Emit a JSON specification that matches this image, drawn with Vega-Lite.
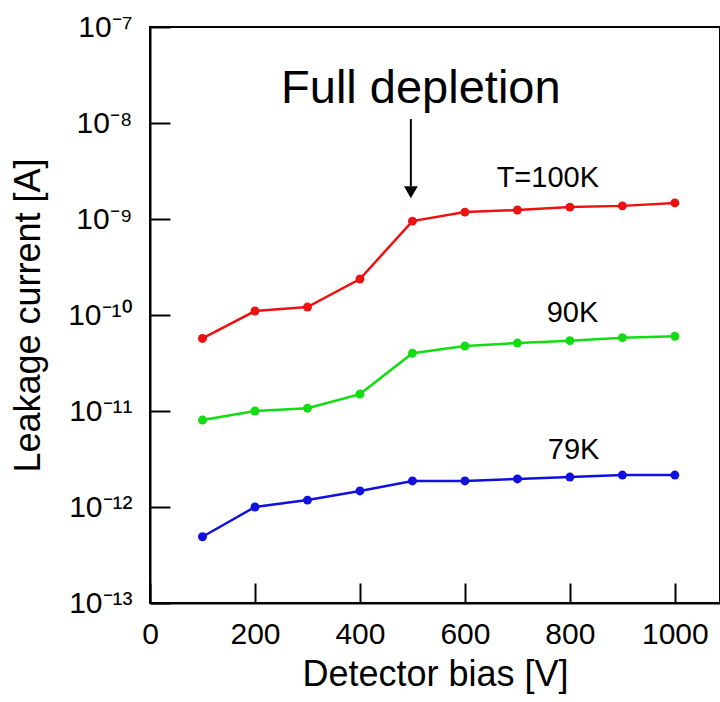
{
  "$schema": "https://vega.github.io/schema/vega-lite/v6.json",
  "autosize": {"type": "none"},
  "padding": {"left": 150, "top": 27, "right": 0, "bottom": 99},
  "width": 570,
  "height": 576,
  "background": "white",
  "config": {
    "font": "Liberation Sans",
    "view": {"stroke": "black", "strokeWidth": 2},
    "axis": {
      "grid": false,
      "domainColor": "black",
      "domainWidth": 2,
      "tickColor": "black",
      "tickWidth": 2,
      "tickSize": -20,
      "labelColor": "black",
      "labelFont": "Liberation Sans",
      "labelFontSize": 30,
      "titleFont": "Liberation Sans",
      "titleFontSize": 36,
      "titleFontWeight": "normal",
      "titleColor": "black"
    }
  },
  "datasets": {
    "series": [
      {"V": 100, "I": 5.7e-11, "T": "100K"},
      {"V": 200, "I": 1.1e-10, "T": "100K"},
      {"V": 300, "I": 1.21e-10, "T": "100K"},
      {"V": 400, "I": 2.37e-10, "T": "100K"},
      {"V": 500, "I": 9.5e-10, "T": "100K"},
      {"V": 600, "I": 1.18e-9, "T": "100K"},
      {"V": 700, "I": 1.24e-9, "T": "100K"},
      {"V": 800, "I": 1.33e-9, "T": "100K"},
      {"V": 900, "I": 1.37e-9, "T": "100K"},
      {"V": 1000, "I": 1.47e-9, "T": "100K"},
      {"V": 100, "I": 8.05e-12, "T": "90K"},
      {"V": 200, "I": 1.0e-11, "T": "90K"},
      {"V": 300, "I": 1.07e-11, "T": "90K"},
      {"V": 400, "I": 1.5e-11, "T": "90K"},
      {"V": 500, "I": 4.0e-11, "T": "90K"},
      {"V": 600, "I": 4.75e-11, "T": "90K"},
      {"V": 700, "I": 5.1e-11, "T": "90K"},
      {"V": 800, "I": 5.4e-11, "T": "90K"},
      {"V": 900, "I": 5.8e-11, "T": "90K"},
      {"V": 1000, "I": 6.0e-11, "T": "90K"},
      {"V": 100, "I": 4.9e-13, "T": "79K"},
      {"V": 200, "I": 1.0e-12, "T": "79K"},
      {"V": 300, "I": 1.18e-12, "T": "79K"},
      {"V": 400, "I": 1.47e-12, "T": "79K"},
      {"V": 500, "I": 1.87e-12, "T": "79K"},
      {"V": 600, "I": 1.87e-12, "T": "79K"},
      {"V": 700, "I": 1.96e-12, "T": "79K"},
      {"V": 800, "I": 2.05e-12, "T": "79K"},
      {"V": 900, "I": 2.15e-12, "T": "79K"},
      {"V": 1000, "I": 2.15e-12, "T": "79K"}
    ],
    "labels": [
      {"V": 758, "I": 2.15e-9, "label": "T=100K"},
      {"V": 805, "I": 8.45e-11, "label": "90K"},
      {"V": 807, "I": 3.16e-12, "label": "79K"}
    ],
    "note": [
      {"V": 516, "I": 1.6e-8, "label": "Full depletion", "V0": 497, "Itop": 1.1e-8, "Ibase": 2.2e-9, "Ihead": 1.9e-9}
    ]
  },
  "layer": [
    {
      "data": {"name": "series"},
      "mark": {"type": "line", "strokeWidth": 2.5},
      "encoding": {
        "x": {
          "field": "V",
          "type": "quantitative",
          "scale": {"domain": [0, 1086], "nice": false, "zero": false},
          "axis": {"title": "Detector bias [V]", "values": [0, 200, 400, 600, 800, 1000], "format": "d", "labelPadding": 36, "titlePadding": 8, "labelFlush": false}
        },
        "y": {
          "field": "I",
          "type": "quantitative",
          "scale": {"type": "log", "domain": [1e-13, 1e-7], "nice": false},
          "axis": {
            "title": "Leakage current [A]",
            "values": [1e-13, 1e-12, 1e-11, 1e-10, 1e-9, 1e-8, 1e-7],
            "labelExpr": "['10⁻¹³','10⁻¹²','10⁻¹¹','10⁻¹⁰','10⁻⁹','10⁻⁸','10⁻⁷'][round(log(datum.value)/LN10)+13]",
            "labelPadding": 38,
            "titlePadding": 20,
            "labelFlush": false
          }
        },
        "color": {"field": "T", "type": "nominal", "scale": {"domain": ["100K", "90K", "79K"], "range": ["#ee1111", "#11dd11", "#1111dd"]}, "legend": null}
      }
    },
    {
      "data": {"name": "series"},
      "mark": {"type": "point", "filled": true, "opacity": 1, "size": 80},
      "encoding": {
        "x": {"field": "V", "type": "quantitative"},
        "y": {"field": "I", "type": "quantitative"},
        "color": {"field": "T", "type": "nominal", "legend": null}
      }
    },
    {
      "data": {"name": "labels"},
      "mark": {"type": "text", "fontSize": 29, "align": "center", "baseline": "alphabetic", "color": "black"},
      "encoding": {
        "x": {"field": "V", "type": "quantitative"},
        "y": {"field": "I", "type": "quantitative"},
        "text": {"field": "label"}
      }
    },
    {
      "data": {"name": "note"},
      "mark": {"type": "text", "fontSize": 47, "align": "center", "baseline": "alphabetic", "color": "black"},
      "encoding": {
        "x": {"field": "V", "type": "quantitative"},
        "y": {"field": "I", "type": "quantitative"},
        "text": {"field": "label"}
      }
    },
    {
      "data": {"name": "note"},
      "mark": {"type": "rule", "color": "black", "strokeWidth": 2},
      "encoding": {
        "x": {"field": "V0", "type": "quantitative"},
        "y": {"field": "Itop", "type": "quantitative"},
        "y2": {"field": "Ibase"}
      }
    },
    {
      "data": {"name": "note"},
      "mark": {"type": "point", "shape": "triangle-down", "filled": true, "color": "black", "opacity": 1, "size": 190},
      "encoding": {
        "x": {"field": "V0", "type": "quantitative"},
        "y": {"field": "Ihead", "type": "quantitative"}
      }
    }
  ]
}
